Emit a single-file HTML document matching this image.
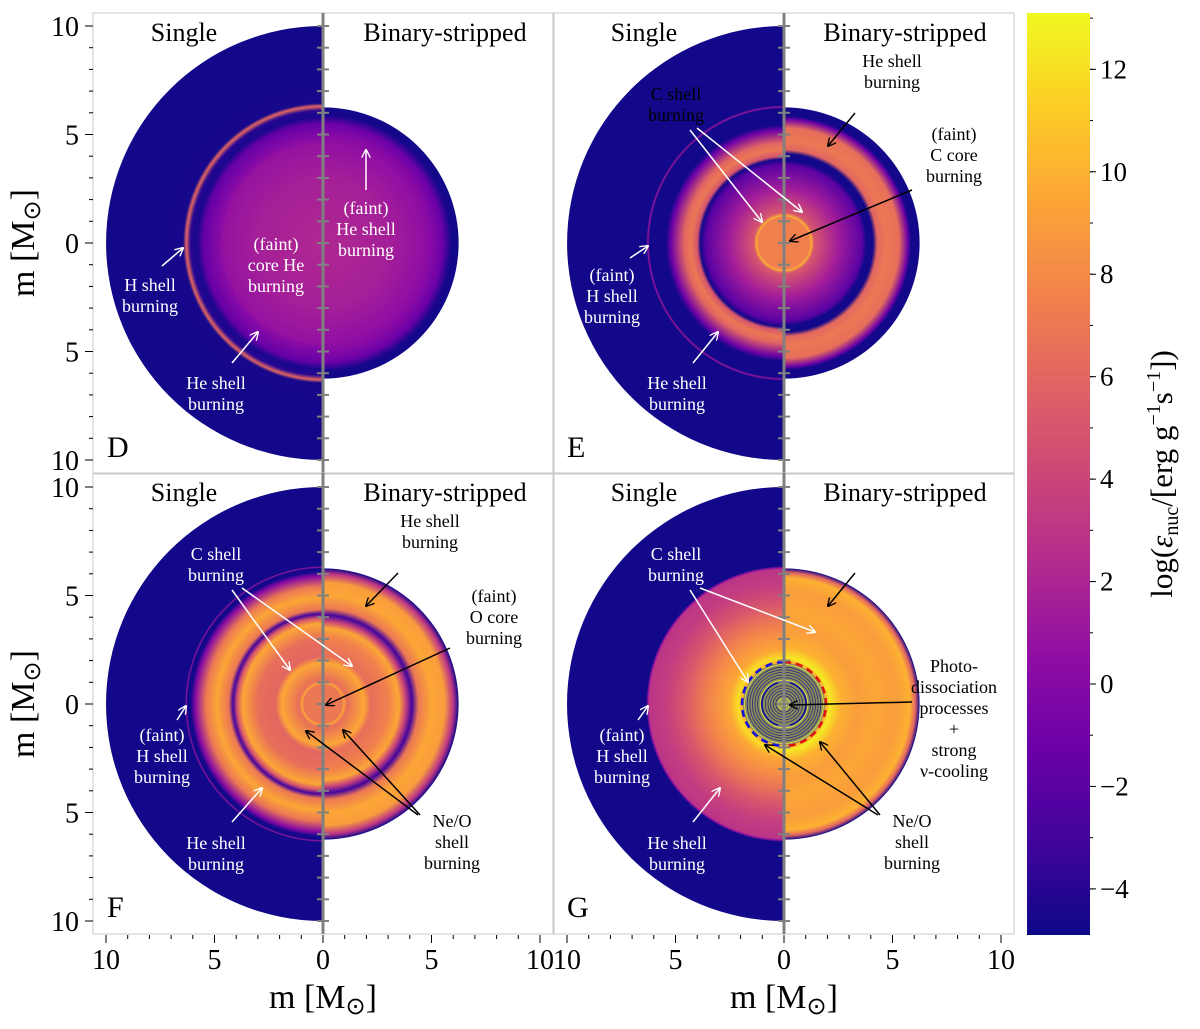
<!DOCTYPE html>
<html><head><meta charset="utf-8"><style>
body{margin:0;background:#fff;}
svg{display:block;font-family:"Liberation Serif",serif;}
</style></head><body>
<svg id="chart" width="1200" height="1029" xmlns="http://www.w3.org/2000/svg">
<defs>
<marker id="aw" viewBox="0 0 10 10" refX="9" refY="5" markerWidth="9" markerHeight="9" orient="auto" markerUnits="userSpaceOnUse"><path d="M0,0 L10,5 L0,10" fill="none" stroke="#fff" stroke-width="1.5"/></marker>
<marker id="ak" viewBox="0 0 10 10" refX="9" refY="5" markerWidth="9" markerHeight="9" orient="auto" markerUnits="userSpaceOnUse"><path d="M0,0 L10,5 L0,10" fill="none" stroke="#000" stroke-width="1.5"/></marker>
<linearGradient id="cbar" x1="0" y1="1" x2="0" y2="0"></linearGradient>
</defs>
</svg>
<script>
// colour scale data
const cbTicks=[-4,-2,0,2,4,6,8,10,12];
const vMin=-4.9, vMax=13.1;
// radial profiles: [radius in Msun, log eps]
const profDsingle=[[0,2.2],[3,1.6],[4.6,0.8],[4.75,0.2],[5.5,-1.5],[5.8,-4.5],[6.1,-4],[6.3,6],[6.45,-4.6],[10,-4.7]];
const profDstrip=[[0,2.2],[3,1.6],[4.6,0.6],[5.0,0],[5.5,-1.2],[5.9,-4.6],[6.25,-4.7]];
const profEsingle=[[0,7.5],[1.2,7.5],[1.25,10],[1.4,5],[2.5,1.5],[3.6,-2],[3.85,-4.7],[4.0,5],[4.3,7],[4.6,6],[5.2,-1],[5.45,-4.7],[6.2,-4.7],[6.27,1],[6.34,-4.7],[10,-4.7]];
const profEstrip=[[0,7.5],[1.2,7.5],[1.25,10],[1.4,5],[2.5,1.5],[3.6,-2],[3.8,-4.7],[4.1,-4.7],[4.3,6],[4.7,7],[5.3,6.5],[5.7,-1],[5.85,-4.7],[6.25,-4.7]];
const profFsingle=[[0,7],[0.9,7],[0.95,9.5],[1.1,6.5],[1.9,9.5],[2.2,6],[3.0,6.5],[3.7,9.5],[3.95,5],[4.15,-3],[4.35,7],[4.9,9.5],[5.4,7],[5.9,0],[6.1,-4.7],[6.25,-4.7],[6.3,1],[6.36,-4.7],[10,-4.7]];
const profFstrip=[[0,7],[0.9,7],[0.95,9.5],[1.1,6.5],[1.9,9.5],[2.2,6.5],[3.0,7.5],[3.5,9.5],[3.8,4],[4.1,-3],[4.4,7],[5.0,9.5],[5.6,9],[6.0,3],[6.25,-4.7]];
const profGsingle=[[0,10],[1.95,10],[2.1,12],[2.5,9.5],[3.3,8],[4.0,6.5],[4.6,5],[5.5,3.5],[6.2,3],[6.27,1],[6.35,-4.7],[10,-4.7]];
const profGstrip=[[0,10],[1.95,10],[2.1,12.5],[2.6,10],[3.4,9],[4.2,9.5],[5.2,9],[5.8,10],[6.05,6],[6.25,-4.7]];

const plasma=["#0d0887","#41049d","#6a00a8","#8f0da4","#b12a90","#cc4778","#e16462","#f2844b","#fca636","#fcce25","#f0f921"];
function hex(c){return [1,3,5].map(i=>parseInt(c.substr(i,2),16));}
function cmap(v){let t=Math.max(0,Math.min(1,(v-vMin)/(vMax-vMin)))*10;let i=Math.min(9,Math.floor(t)),f=t-i;
 const a=hex(plasma[i]),b=hex(plasma[i+1]);return "rgb("+a.map((x,k)=>Math.round(x+(b[k]-x)*f)).join(",")+")";}
const NS="http://www.w3.org/2000/svg";
const svg=document.getElementById("chart");const defs=svg.querySelector("defs");
function mk(tag,at,parent){const e=document.createElementNS(NS,tag);for(const k in at)e.setAttribute(k,at[k]);(parent||svg).appendChild(e);return e;}
const S=21.7;
const cg=document.getElementById("cbar");
for(let i=0;i<=10;i++){mk("stop",{offset:i/10,"stop-color":plasma[i]},cg);}
const cbTop=13,cbBot=935;function cby(v){return cbBot-(v-vMin)/(vMax-vMin)*(cbBot-cbTop);}

const panels=[
 {id:"D",cx:323,cy:243,x0:93,y0:13,ps:profDsingle,pb:profDstrip},
 {id:"E",cx:784,cy:243,x0:553,y0:13,ps:profEsingle,pb:profEstrip},
 {id:"F",cx:323,cy:704,x0:93,y0:473,ps:profFsingle,pb:profFstrip},
 {id:"G",cx:784,cy:704,x0:553,y0:473,ps:profGsingle,pb:profGstrip}];
let gid=0;
function half(p,prof,side,name){
 const R=prof[prof.length-1][0];const id="rg"+(gid++);
 const g=mk("radialGradient",{id:id,gradientUnits:"userSpaceOnUse",cx:p.cx,cy:p.cy,r:R*S},defs);
 prof.forEach(([r,v])=>mk("stop",{offset:r/R,"stop-color":cmap(v)},g));
 const rp=R*S;
 const d=`M${p.cx},${p.cy-rp} A${rp},${rp} 0 0 ${side<0?0:1} ${p.cx},${p.cy+rp} Z`;
 const e=mk("path",{d:d,fill:`url(#${id})`});
 
 
}
panels.forEach(p=>{
 const fr=mk("rect",{x:p.x0,y:p.y0,width:461,height:461,fill:"none",stroke:"#c8c8c8","stroke-width":1});
 
 
 half(p,p.ps,-1,'single-star-'+p.id);
 half(p,p.pb,1,'stripped-star-'+p.id);
 if(p.id==="G"){
  const core=mk("g",{});
  
  
  mk("circle",{cx:p.cx,cy:p.cy,r:41,fill:"#8c8c5a"},core);
  for(let r=3;r<41;r+=2.6){mk("circle",{cx:p.cx,cy:p.cy,r:r,fill:"none",stroke:(Math.round(r)%3? "#2a2a80":"#e8e850"),"stroke-width":0.8},core);}
  mk("circle",{cx:p.cx,cy:p.cy,r:22,fill:"none",stroke:"#1a1a90","stroke-width":2},core);
  mk("path",{d:`M${p.cx},${p.cy-42} A42,42 0 0 0 ${p.cx},${p.cy+42}`,fill:"none",stroke:"#1010e0","stroke-width":2.5,"stroke-dasharray":"7,5"},core);
  mk("path",{d:`M${p.cx},${p.cy-42} A42,42 0 0 1 ${p.cx},${p.cy+42}`,fill:"none",stroke:"#e01010","stroke-width":2.5,"stroke-dasharray":"7,5"},core);
 }
 const ax=mk("line",{x1:p.cx,y1:p.y0,x2:p.cx,y2:p.y0+461,stroke:"#808080","stroke-width":3});
 
 
 for(let m=-10;m<=10;m++){const y=p.cy+m*S;mk("line",{x1:p.cx-6,y1:y,x2:p.cx+6,y2:y,stroke:"#808080","stroke-width":2});}
 const t1=mk("text",{x:p.x0+91,y:p.y0+28,"font-size":26,"text-anchor":"middle"});t1.textContent="Single";
 
 
 const t2=mk("text",{x:p.x0+352,y:p.y0+28,"font-size":26,"text-anchor":"middle"});t2.textContent="Binary-stripped";
 
 
 const t3=mk("text",{x:p.x0+14,y:p.y0+444,"font-size":30});t3.textContent=p.id;
 
 
});
[243,704].forEach(cy=>{
 for(let m=-10;m<=10;m++){const y=cy+m*S;if(y<13||y>935)continue;mk("line",{x1:93,y1:y,x2:m%5?89:85,y2:y,stroke:"#000","stroke-width":1});}
 [-10,-5,0,5,10].forEach(m=>{const t=mk("text",{x:79,y:cy+m*S+10,"font-size":28,"text-anchor":"end"});t.textContent=Math.abs(m);
 
 });
});
[323,784].forEach(cx=>{
 for(let m=-10;m<=10;m++){const x=cx+m*S;mk("line",{x1:x,y1:935,x2:x,y2:m%5?939:943,stroke:"#000","stroke-width":1});}
 [-10,-5,0,5,10].forEach(m=>{const t=mk("text",{x:cx+m*S,y:969,"font-size":28,"text-anchor":"middle"});t.textContent=Math.abs(m);
 
 });
});
[243,704].forEach(cy=>{const t=mk("text",{x:0,y:0,"font-size":34,"text-anchor":"middle",transform:`translate(34,${cy}) rotate(-90)`});
 t.innerHTML='m [M<tspan font-size="24" dy="6">⊙</tspan><tspan dy="-6">]</tspan>';
 
 });
[323,784].forEach(cx=>{const t=mk("text",{x:cx,y:1008,"font-size":34,"text-anchor":"middle"});
 t.innerHTML='m [M<tspan font-size="24" dy="6">⊙</tspan><tspan dy="-6">]</tspan>';
 
 });
const cb=mk("rect",{x:1027,y:cbTop,width:63,height:cbBot-cbTop,fill:"url(#cbar)"});


cbTicks.forEach(v=>{const y=cby(v);mk("line",{x1:1090,y1:y,x2:1096,y2:y,stroke:"#000"});
 const t=mk("text",{x:1100,y:y+9,"font-size":27});t.textContent=(v<0?"\u2212":"")+Math.abs(v);
 
 });
for(let v=-4;v<=13;v+=1){const y=cby(v);mk("line",{x1:1090,y1:y,x2:1093,y2:y,stroke:"#000"});}
const cl=mk("text",{x:0,y:0,"font-size":31,"text-anchor":"middle",transform:"translate(1172,474) rotate(-90)"});
cl.innerHTML='log(<tspan font-style="italic">ε</tspan><tspan font-size="20" dy="6">nuc</tspan><tspan dy="-6">/[erg g</tspan><tspan font-size="20" dy="-12">−1</tspan><tspan dy="12">s</tspan><tspan font-size="20" dy="-12">−1</tspan><tspan dy="12">])</tspan>';


function note(x,y,lines,col){const t=mk("text",{x:x,y:y,"font-size":18,fill:col,"text-anchor":"middle"});
 lines.forEach((l,i)=>{const s=mk("tspan",{x:x,dy:i?21:0},t);s.textContent=l;});
 
 }
function arr(x1,y1,x2,y2,col){const l=mk("line",{x1,y1,x2,y2,stroke:col,"stroke-width":1.5,"marker-end":col==="#fff"?"url(#aw)":"url(#ak)"});
 
 }
const W="#fff",K="#000";
note(150,291,["H shell","burning"],W);arr(162,266,183,248,W);
note(276,250,["(faint)","core He","burning"],W);
note(366,214,["(faint)","He shell","burning"],W);arr(366,190,366,150,W);
note(216,389,["He shell","burning"],W);arr(232,363,258,332,W);
note(892,67,["He shell","burning"],K);arr(855,113,828,146,K);
note(676,100,["C shell","burning"],K);arr(690,130,762,222,W);arr(697,128,802,212,W);
note(954,140,["(faint)","C core","burning"],K);arr(912,190,790,241,K);
note(612,281,["(faint)","H shell","burning"],W);arr(630,258,648,246,W);
note(677,389,["He shell","burning"],W);arr(693,363,718,332,W);
note(430,527,["He shell","burning"],K);arr(398,573,366,606,K);
note(216,560,["C shell","burning"],W);arr(232,590,290,670,W);arr(242,588,352,666,W);
note(494,602,["(faint)","O core","burning"],K);arr(450,648,326,705,K);
note(162,741,["(faint)","H shell","burning"],W);arr(177,720,186,706,W);
note(216,849,["He shell","burning"],W);arr(232,822,262,788,W);
note(452,827,["Ne/O","shell","burning"],K);arr(418,815,306,731,K);arr(420,815,343,730,K);
note(892,527,["He shell","burning"],W);arr(855,573,828,606,K);
note(676,560,["C shell","burning"],W);arr(690,590,748,682,W);arr(700,588,815,632,W);
note(954,672,["Photo-","dissociation","processes","+","strong","ν-cooling"],K);arr(912,702,790,705,K);
note(622,741,["(faint)","H shell","burning"],W);arr(638,720,648,706,W);
note(677,849,["He shell","burning"],W);arr(693,822,720,788,W);
note(912,827,["Ne/O","shell","burning"],K);arr(878,815,765,745,K);arr(880,815,820,742,K);
</script>
</body></html>
